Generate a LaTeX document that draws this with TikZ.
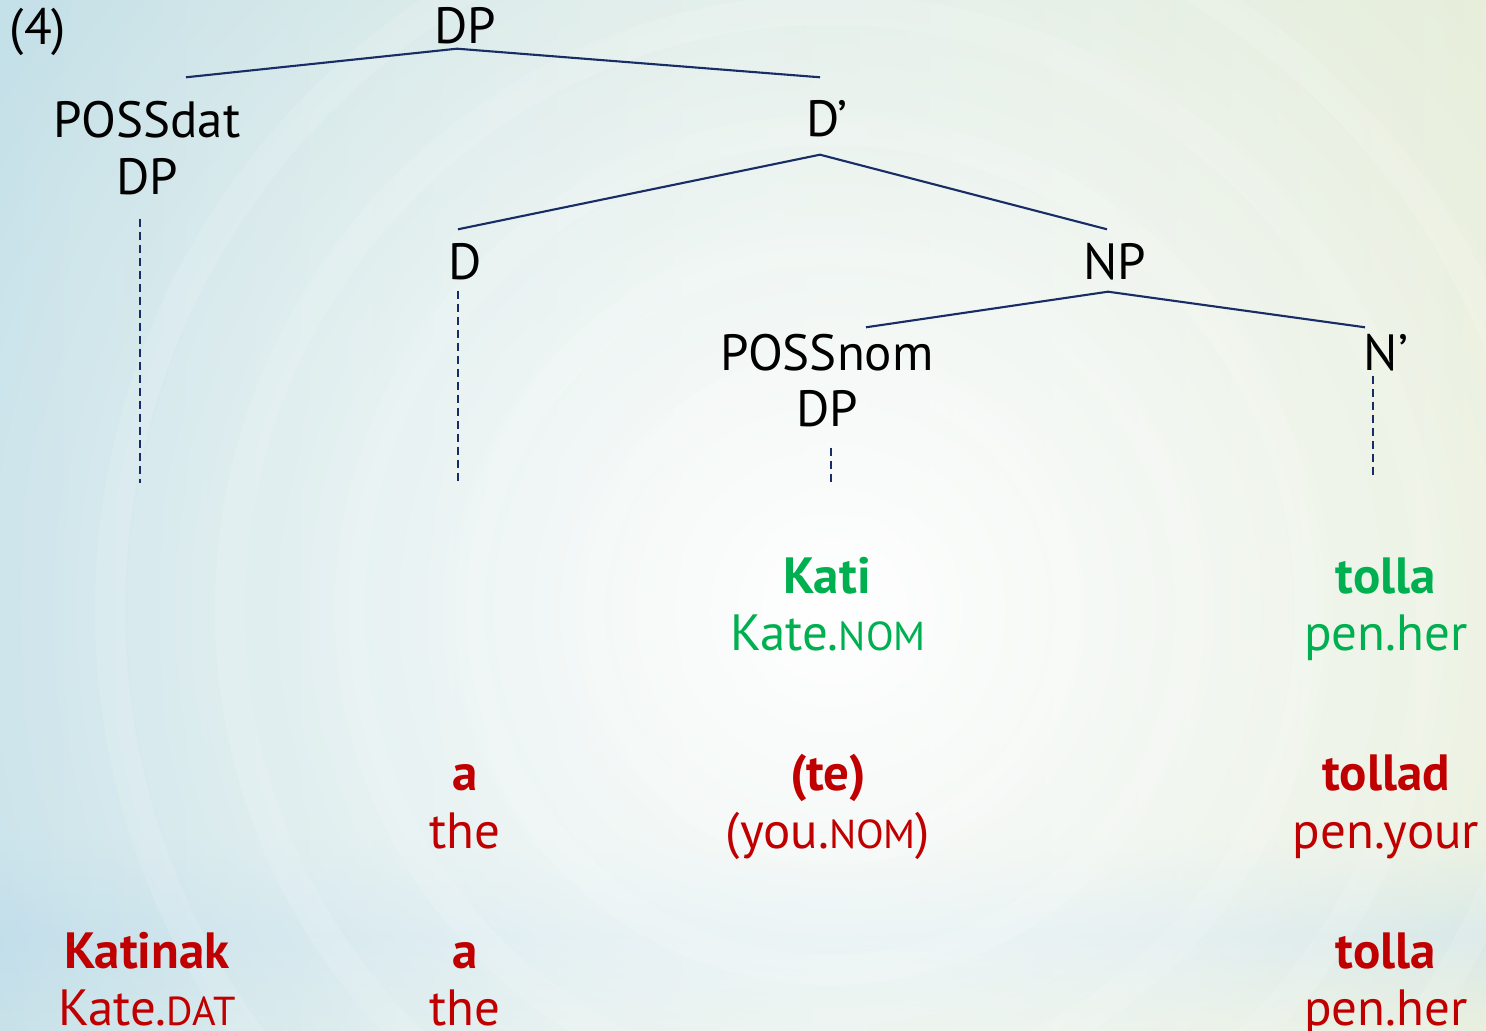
\documentclass[tikz,border=0pt]{standalone}
\usepackage{fontspec}
\setmainfont{PT Sans}
\usetikzlibrary{fadings,positioning}
\definecolor{navy}{RGB}{24,44,102}
\definecolor{grass}{RGB}{0,176,80}
\definecolor{crimson}{RGB}{192,0,0}
\definecolor{sky}{RGB}{196,224,232}
\definecolor{sage}{RGB}{228,236,214}
\definecolor{mist}{RGB}{178,214,232}
\newcommand{\glcap}[1]{{\fontsize{11.5pt}{12pt}\selectfont #1}}
\tikzfading[name=glow,inner color=transparent!0,outer color=transparent!100]
\tikzfading[name=band,top color=transparent!100,bottom color=transparent!100,middle color=transparent!30]
\tikzset{
  cat/.style={font=\fontsize{14.5pt}{16pt}\selectfont,anchor=base,inner sep=0pt,
    text height=3.6mm,text depth=0pt},
  word/.style={font=\fontsize{14.5pt}{16pt}\selectfont\bfseries,text=#1,anchor=base,inner sep=0pt},
  word/.default=crimson,
  gloss/.style={font=\fontsize{14.5pt}{16pt}\selectfont,text=#1,anchor=base,inner sep=0pt},
  gloss/.default=crimson,
  branch/.style={draw=navy,line width=0.6pt},
  trace/.style={draw=navy,line width=0.6pt,dash pattern=on 0.8mm off 0.5mm},
}

\begin{document}
\begin{tikzpicture}
  % backdrop
  \useasboundingbox (0,0) rectangle (14.86,-10.31);
  \fill[left color=sky,right color=sage] (0,0) rectangle (14.86,-10.31);
  \fill[mist,path fading=band,opacity=0.7] (0,-8.4) rectangle (14.86,-10.31);
  \foreach \r in {2.4,3.6,4.8,6.0,7.2}
    \draw[white,opacity=0.12,line width=3mm] (8.3,-6.1) circle (\r);
  \fill[white,path fading=glow] (8.3,-6.1) circle (10);

  % tree
  \node[cat] (ex) at (0.38,-0.45) {(4)};
  \node[cat] (dp) at (4.65,-0.44) {DP};
  \node[cat] (possdat) at (1.47,-1.38) {POSSdat};
  \node[cat] (possdatdp) at (1.47,-1.95) {DP};
  \node[cat] (dbar) at (8.27,-1.37) {D’};
  \node[cat] (d) at (4.65,-2.80) {D};
  \node[cat] (np) at (11.15,-2.80) {NP};
  \node[cat] (possnom) at (8.27,-3.71) {POSSnom};
  \node[cat] (possnomdp) at (8.27,-4.27) {DP};
  \node[cat] (nbar) at (13.86,-3.71) {N’};

  \draw[branch] ([xshift=3.9mm,yshift=2.4mm]possdat.north) -- ([xshift=-0.8mm,yshift=-0.4mm]dp.south)
    -- ([xshift=-0.7mm,yshift=2.3mm]dbar.north);
  \draw[branch] ([xshift=-0.7mm,yshift=1.4mm]d.north) -- ([xshift=-0.7mm,yshift=-1.7mm]dbar.south)
    -- ([xshift=-0.8mm,yshift=1.4mm]np.north);
  \draw[branch] ([xshift=3.9mm,yshift=0.7mm]possnom.north) -- ([xshift=-0.7mm,yshift=-1.1mm]np.south)
    -- ([xshift=-2.1mm,yshift=0.7mm]nbar.north);

  \draw[trace] ([xshift=-0.7mm,yshift=-2.3mm]possdatdp.south) -- ++(0,-2.64);
  \draw[trace] ([xshift=-0.7mm,yshift=-1mm]d.south) -- ++(0,-1.92);
  \draw[trace] ([xshift=0.4mm,yshift=-2mm]possnomdp.south) -- ++(0,-0.35);
  \draw[trace] ([xshift=-1.3mm,yshift=-0.4mm]nbar.south) -- ++(0,-1.0);

  % nominative possessor
  \node[word=grass] (kati) at (8.27,-5.94) {Kati};
  \node[gloss=grass] (katig) at (8.28,-6.51) {Kate.\glcap{NOM}};
  \node[word=grass] (tolla1) at (13.86,-5.94) {tolla};
  \node[gloss=grass] (tolla1g) at (13.86,-6.51) {pen.her};

  % second person
  \node[word] (a1) at (4.65,-7.91) {a};
  \node[gloss] (a1g) at (4.65,-8.48) {the};
  \node[word] (te) at (8.28,-7.91) {(te)};
  \node[gloss] (teg) at (8.28,-8.48) {(you.\glcap{NOM})};
  \node[word] (tollad) at (13.86,-7.91) {tollad};
  \node[gloss] (tolladg) at (13.86,-8.48) {pen.your};

  % dative possessor
  \node[word] (katinak) at (1.47,-9.68) {Katinak};
  \node[gloss] (katinakg) at (1.47,-10.25) {Kate.\glcap{DAT}};
  \node[word] (a2) at (4.65,-9.68) {a};
  \node[gloss] (a2g) at (4.65,-10.25) {the};
  \node[word] (tolla2) at (13.86,-9.68) {tolla};
  \node[gloss] (tolla2g) at (13.86,-10.25) {pen.her};
\end{tikzpicture}
\end{document}
